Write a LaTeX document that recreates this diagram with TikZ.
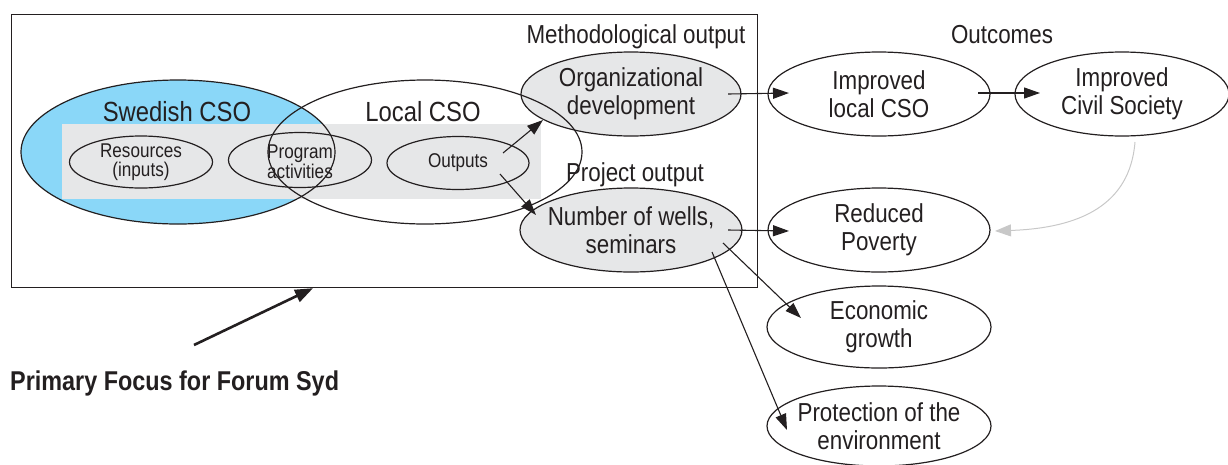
\documentclass[tikz,border=0pt]{standalone}
\usepackage{fontspec}
\setmainfont[FakeStretch=0.86]{Liberation Sans}
\usetikzlibrary{shapes.geometric,arrows.meta,calc}

\definecolor{ink}{HTML}{231F20}
\definecolor{swblue}{HTML}{8AD7F8}
\definecolor{panel}{HTML}{E6E7E8}
\definecolor{faint}{HTML}{C8C8C8}

\begin{document}
\begin{tikzpicture}[x=1pt,y=-1pt,
  oval/.style n args={2}{ellipse, draw=ink, line width=1.2pt, inner sep=0pt,
    minimum width=#1, minimum height=#2},
  lbl/.style={align=center, text=ink, inner sep=0pt, font=\fontsize{26}{28}\selectfont},
  small/.style={align=center, text=ink, inner sep=0pt, font=\fontsize{19.9}{18.5}\selectfont},
  head/.style={text=ink, inner sep=0pt, anchor=base, font=\fontsize{26}{28}\selectfont},
  big/.style={text=ink, inner sep=0pt, anchor=base, font=\fontsize{27.7}{30}\selectfont},
  arr/.style={draw=ink, line width=1.1pt, -{Triangle[length=16pt,width=11pt]}},
]
\useasboundingbox (0,0) rectangle (1228,464);

% frame around the primary focus area
\node[draw=ink, line width=1.2pt, inner sep=0pt, minimum width=746pt,
      minimum height=273pt, anchor=north west] (frame) at (11,14) {};

% Swedish CSO fill, activity band, then outlines on top
\node[oval={314pt}{144pt}, fill=swblue, draw=none] (sweFill) at (178,152) {};
\node[fill=panel, inner sep=0pt, minimum width=479pt, minimum height=75pt,
      anchor=north west] (band) at (62,124) {};
\node[oval={314pt}{144pt}] (swe) at (178,152) {};
\node[oval={220pt}{84pt}, fill=panel] (org) at (631,94) {};
\node[oval={222pt}{84pt}, fill=panel] (wells) at (631,230) {};
\node[oval={314pt}{144pt}] (loc) at (425,152) {};

% chain inside the band
\node[oval={143pt}{52pt}] (res) at (141,162) {};
\node[oval={143pt}{55pt}] (prog) at (300,160) {};
\node[oval={142pt}{53pt}] (outp) at (458,163) {};

% outcomes
\node[oval={222pt}{84pt}] (imp) at (879,94) {};
\node[oval={214pt}{84pt}] (civ) at (1122,94) {};
\node[oval={222pt}{84pt}] (pov) at (879,230) {};
\node[oval={224pt}{82pt}] (eco) at (879,327) {};
\node[oval={224pt}{80pt}] (prot) at (879,426) {};

% texts
\node[small] (resT) at (res) {Resources\\(inputs)};
\node[small] (progT) at ($(prog)+(0,2)$) {Program\\activities};
\node[small] (outpT) at (outp) {Outputs};
\node[big] (sweT) at (177,121) {Swedish CSO};
\node[big] (locT) at (423,121) {Local CSO};
\node[head] (methT) at (636,43) {Methodological output};
\node[head] (outcT) at (1002,43) {Outcomes};
\node[head] (projT) at (635,181) {Project output};
\node[lbl] (orgT) at (org) {Organizational\\development};
\node[lbl] (wellsT) at (wells) {Number of wells,\\seminars};
\node[lbl] (impT) at (imp) {Improved\\local CSO};
\node[lbl] (civT) at (civ) {Improved\\Civil Society};
\node[lbl] (povT) at (pov) {Reduced\\Poverty};
\node[lbl] (ecoT) at (eco) {Economic\\growth};
\node[lbl] (protT) at (prot) {Protection of the\\environment};
\node[text=ink, inner sep=0pt, anchor=base west,
      font=\bfseries\fontsize{27.2}{30}\selectfont] (pfT) at (10,390)
      {Primary Focus for Forum Syd};

% connectors
\draw[arr] ($(outp)+(45,-10)$) -- ($(org)+(-88,26)$);
\draw[arr] ($(outp)+(42,11)$) -- ($(wells)+(-95,-15)$);
\draw[arr] ($(org)+(97,0)$) -- ($(imp)+(-90,-1)$);
\draw[arr] ($(imp)+(99,-1)$) -- ($(civ)+(-82,-1)$);
\draw[arr] ($(wells)+(97,0)$) -- ($(pov)+(-90,1)$);
\draw[arr] ($(wells)+(92,13)$) -- ($(eco)+(-78,-9)$);
\draw[arr] ($(wells)+(81,22)$) -- ($(prot)+(-92,4)$);
\draw[faint, line width=1pt, -{Triangle[length=16pt,width=12pt]}]
  ($(civ)+(13,48)$) .. controls ($(civ)+(8,111)$) and ($(pov)+(201,-2)$) .. ($(pov)+(116,1)$);

% pointer to the frame
\coordinate (pfTail) at (194,345);
\draw[draw=ink, line width=2.6pt, -{Triangle[length=18pt,width=13pt]}]
  (pfTail) -- ($(frame.south west)+(302,0)$);
\end{tikzpicture}
\end{document}
